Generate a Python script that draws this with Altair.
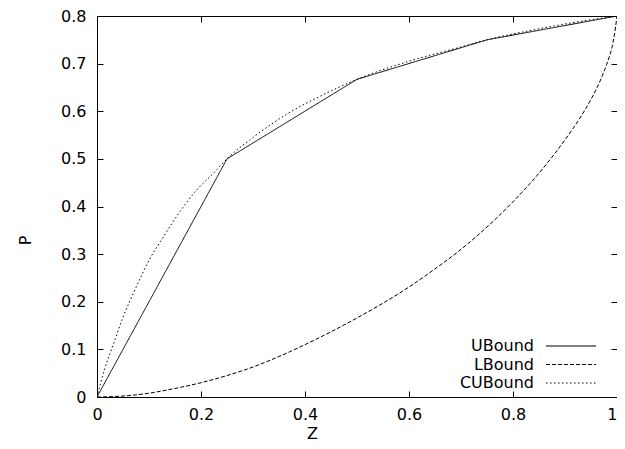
import altair as alt
import pandas as pd

series_names = ["UBound", "LBound", "CUBound"]
x_ticks = [0, 0.2, 0.4, 0.6, 0.8, 1]
y_ticks = [0, 0.1, 0.2, 0.3, 0.4, 0.5, 0.6, 0.7, 0.8]

ubound_z = [0, 0.25, 0.5, 0.75, 1.0]
ubound_p = [0, 0.5, 0.667, 0.75, 0.8]

lbound_z = [0, 0.05, 0.1, 0.15, 0.2, 0.25, 0.3, 0.35, 0.4, 0.45, 0.5, 0.55, 0.6, 0.65,
            0.7, 0.75, 0.8, 0.85, 0.9, 0.93, 0.95, 0.97, 0.98, 0.99, 0.995, 1.0]
lbound_p = [0, 0.002, 0.008, 0.018, 0.03, 0.045, 0.063, 0.085, 0.11, 0.137, 0.166, 0.197, 0.231, 0.269,
            0.31, 0.357, 0.41, 0.47, 0.54, 0.588, 0.625, 0.67, 0.698, 0.733, 0.76, 0.8]

cubound_z = [0, 0.015, 0.028, 0.051, 0.075, 0.1, 0.128, 0.16, 0.192, 0.224, 0.25, 0.3, 0.365, 0.43, 0.5, 0.6, 0.7, 0.75, 0.85, 0.92, 1.0]
cubound_p = [0, 0.06, 0.10, 0.17, 0.23, 0.287, 0.337, 0.39, 0.435, 0.47, 0.5, 0.545, 0.594, 0.632, 0.667, 0.705, 0.735, 0.75, 0.773, 0.787, 0.8]

rows = []
for name, zs, ps in [("UBound", ubound_z, ubound_p),
                     ("LBound", lbound_z, lbound_p),
                     ("CUBound", cubound_z, cubound_p)]:
    for z, p in zip(zs, ps):
        rows.append({"series": name, "z": z, "p": p})
df = pd.DataFrame(rows)

W, H = 520, 381
TICK = 6
FONT = "DejaVu Sans"

dash_scale = alt.Scale(domain=series_names, range=[[1, 0], [4, 2], [1.5, 2.5]])

x_enc = alt.X(
    "z:Q",
    scale=alt.Scale(domain=[0, 1], nice=False),
    axis=alt.Axis(
        values=x_ticks, format="~g", title="Z",
        grid=True, gridDash=[TICK, H - 2 * TICK, TICK],
        titleX=215, titleY=36, titleBaseline="middle", titleAlign="center",
        labelPadding=9,
        labelAlign={"condition": {"test": "datum.value >= 1", "value": "right"}, "value": "center"},
    ),
)
y_enc = alt.Y(
    "p:Q",
    scale=alt.Scale(domain=[0, 0.8], nice=False),
    axis=alt.Axis(
        values=y_ticks, format="~g", title="P",
        grid=True, gridDash=[TICK, W - 2 * TICK, TICK],
        titleX=-72, titleY=224, titleAngle=270, titleBaseline="middle", titleAlign="center",
        labelPadding=11,
    ),
)
dash_enc = alt.StrokeDash("series:N", scale=dash_scale, legend=None)

base = alt.Chart(df)
ub_layer = base.transform_filter(alt.datum.series == "UBound").mark_line(
    color="black", strokeWidth=1, clip=True
).encode(x=x_enc, y=y_enc, strokeDash=dash_enc)

curve_layer = base.transform_filter(alt.datum.series != "UBound").mark_line(
    color="black", strokeWidth=1, interpolate="monotone", clip=True
).encode(x=x_enc, y=y_enc, strokeDash=dash_enc)

main = alt.layer(ub_layer, curve_layer)

legend_df = pd.DataFrame({"series": series_names})
leg_base = alt.Chart(legend_df).transform_window(row="row_number()")
leg_y = alt.Y("row:Q", scale=alt.Scale(domain=[1, 3], range=[330, 367]), axis=None)

leg_text = leg_base.mark_text(
    align="right", baseline="middle", font=FONT, fontSize=16, color="black"
).encode(x=alt.value(437), y=leg_y, text="series:N")

leg_rule = leg_base.mark_rule(color="black", strokeWidth=1).encode(
    x=alt.value(449), x2=alt.value(499), y=leg_y, strokeDash=dash_enc
)

chart = alt.layer(main, leg_text, leg_rule).resolve_scale(y="independent").properties(
    width=W, height=H,
    autosize=alt.AutoSizeParams(type="none"),
    padding={"left": 89, "top": 8, "right": 0, "bottom": 44},
).configure_view(
    stroke="black", strokeWidth=1
).configure_axis(
    labelFont=FONT, labelFontSize=16, labelColor="black",
    titleFont=FONT, titleFontSize=16, titleFontWeight="normal", titleColor="black",
    domain=False, ticks=False, tickSize=0,
    gridColor="black", gridOpacity=1, gridWidth=1,
    labelFlush=False, labelOverlap=False,
)

chart.save("out.html", embed_options={"renderer": "svg", "actions": False})
